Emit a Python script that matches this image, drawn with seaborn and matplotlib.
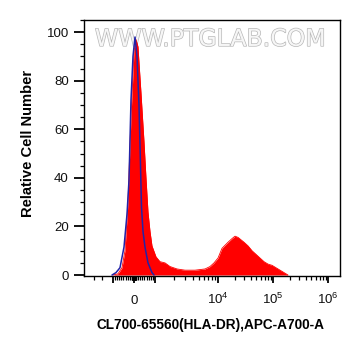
import numpy as np
import matplotlib
matplotlib.use("Agg")
import matplotlib.pyplot as plt
import matplotlib.patheffects as pe
from matplotlib.ticker import FixedLocator, NullFormatter
import seaborn as sns

# ---------------- data (fluorescence value, relative cell count) ----------------
red_x = [-1000, -762, -571, -429, -286, -143, 0, 95, 190, 333, 476, 571, 667, 762,
         857, 1037, 1200, 1441, 1730, 2235, 2994, 4313, 6220, 7464, 8642, 10000,
         11820, 15200, 17970, 20380, 23100, 26200, 29700, 35130, 41520, 49100,
         58020, 68600, 81140, 95900, 113400, 134100, 158500, 187400]
red_y = [0, 0.5, 3, 10, 30, 65, 92, 97, 94, 75, 55, 40, 26, 18,
         12, 7.5, 5.5, 5, 3.5, 2.5, 2, 2, 2.5, 3.5, 5, 7,
         11, 13.5, 15, 16, 15.5, 14.5, 13.5, 12, 10, 8.5,
         7, 5.5, 4.5, 4, 3, 2, 1, 0]

blue_x = [-1037, -857, -667, -476, -333, -238, -143, -48, 48, 143, 238, 310,
          357, 429, 524, 667, 857, 952]
blue_y = [0, 1, 3, 11.5, 25, 39, 72, 90, 98, 90, 70, 45,
          28, 18, 11.5, 5, 1, 0]

x_tick_values = [-1000, 0, 1000, 1e4, 1e5, 1e6]
x_tick_labels = ["", r"$\mathregular{0}$", "", r"$\mathregular{10^{4}}$",
                 r"$\mathregular{10^{5}}$", r"$\mathregular{10^{6}}$"]
y_tick_values = [0, 20, 40, 60, 80, 100]

x_label = "CL700-65560(HLA-DR),APC-A700-A"
y_label = "Relative Cell Number"
watermark = "WWW.PTGLAB.COM"

# ---------------- logicle-like display scale ----------------
T = 1000.0
K = np.array([3.0, 4.0, 5.0, 6.0])
P = np.array([21.0, 84.0, 139.0, 194.0])
S_END = 55.0


def fwd(v):
    v = np.asarray(v, dtype=float)
    a = np.abs(v)
    s = np.sign(v)
    L = np.log10(np.maximum(a, T))
    logpos = np.interp(L, K, P) + np.where(L > K[-1], (L - K[-1]) * S_END, 0.0)
    pos = np.where(a <= T, a / T * P[0], logpos)
    return s * pos


def inv(u):
    u = np.asarray(u, dtype=float)
    p = np.abs(u)
    s = np.sign(u)
    L = np.interp(p, P, K) + np.where(p > P[-1], (p - P[-1]) / S_END, 0.0)
    val = np.where(p <= P[0], p / P[0] * T, 10.0 ** L)
    return s * val


# ---------------- figure ----------------
sns.set_style("ticks")
plt.rcParams["font.family"] = ["Liberation Sans", "DejaVu Sans"]
plt.rcParams["mathtext.fontset"] = "custom"
plt.rcParams["mathtext.rm"] = "Liberation Sans"

fig = plt.figure(figsize=(3.61, 3.56), dpi=100)
ax = fig.add_axes([84 / 361, 1 - 276 / 356, 256 / 361, 256 / 356])
ax.set_xscale("function", functions=(fwd, inv))

ax.fill_between(red_x, red_y, 0, color="#ff0000", linewidth=0, zorder=2)
sns.lineplot(x=red_x, y=red_y, color="#ff0000", linewidth=0.6, ax=ax, zorder=3)
sns.lineplot(x=blue_x, y=blue_y, color="#2323a8", linewidth=1.1, ax=ax, zorder=4)

ax.set_xlim(-2884, 1.65e6)
ax.set_ylim(-0.4, 105)

ax.xaxis.set_major_locator(FixedLocator(x_tick_values))
ax.set_xticklabels(x_tick_labels)
minor = []
minor += [-2000, -1500]
minor += [-k * 100 for k in range(1, 10)] + [k * 100 for k in range(1, 10)]
minor += [-k * 10 for k in range(1, 10)] + [k * 10 for k in range(1, 10)]
for dec in (1e3, 1e4, 1e5):
    minor += [k * dec for k in range(2, 10)]
ax.xaxis.set_minor_locator(FixedLocator(minor))
ax.xaxis.set_minor_formatter(NullFormatter())

ax.yaxis.set_major_locator(FixedLocator(y_tick_values))
ax.yaxis.set_minor_locator(FixedLocator([v for v in range(0, 106, 5) if v % 20]))
ax.set_yticklabels([str(v) for v in y_tick_values])

ax.tick_params(axis="both", which="major", direction="out", length=5, width=1.3,
               labelsize=9.5, colors="black", labelcolor="#111111")
ax.tick_params(axis="y", which="major", length=7, pad=4)
ax.tick_params(axis="both", which="minor", direction="out", length=3, width=0.9,
               colors="black")
ax.tick_params(axis="x", which="major", pad=15)
for t in ax.get_xticklabels():
    t.set_va("baseline")

for sp in ax.spines.values():
    sp.set_visible(True)
    sp.set_color("black")
    sp.set_linewidth(1.0)

ax.set_xlabel(x_label, fontsize=9.8, fontweight="bold", color="black")
ax.set_ylabel(y_label, fontsize=10.6, fontweight="bold", color="black")
ax.xaxis.label.set_va("center")
ax.yaxis.label.set_va("center")
ax.xaxis.set_label_coords(0.496, -0.191)
ax.yaxis.set_label_coords(-0.219, 0.517)

ax.text(0.494, 0.926, watermark, transform=ax.transAxes, ha="center", va="center",
        fontsize=17, color="#f6f6f6", family="DejaVu Sans",
        path_effects=[pe.withStroke(linewidth=1.0, foreground="#b8b8b8")], zorder=1)

fig.savefig("out.png", dpi=100)
